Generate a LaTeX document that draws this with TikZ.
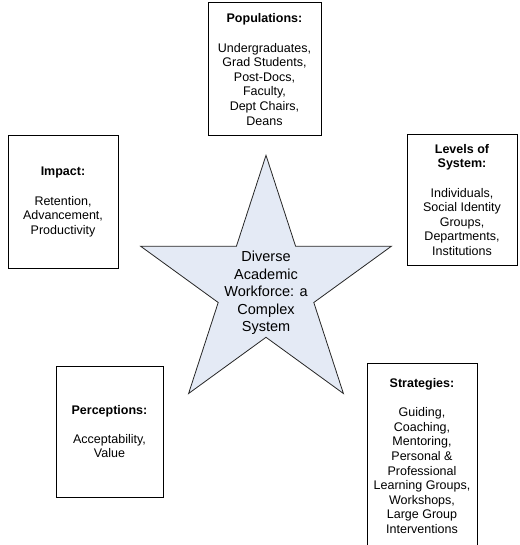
\documentclass[tikz,border=0pt]{standalone}
\usepackage{fontspec}
\setmainfont{Liberation Sans}
\definecolor{starfill}{RGB}{228,234,245}
\begin{document}
\begin{tikzpicture}[x=1pt,y=-1pt,
  infobox/.style={draw=black,line width=1pt,fill=white,inner sep=0pt,align=center,
    font=\fontsize{12.5}{14.6}\selectfont},
  startext/.style={inner sep=0pt,align=center,font=\fontsize{14.5}{17.5}\selectfont}]
\useasboundingbox (0,0) rectangle (519,545);
\clip (0,0) rectangle (519,545);
% star
\coordinate (s1) at (266,155.3);
\coordinate (s2) at (295.6,246.3);
\coordinate (s3) at (391.3,246.3);
\coordinate (s4) at (313.8,302.5);
\coordinate (s5) at (343.4,393.5);
\coordinate (s6) at (266,337.3);
\coordinate (s7) at (188.6,393.5);
\coordinate (s8) at (218.2,302.5);
\coordinate (s9) at (140.7,246.3);
\coordinate (s10) at (236.4,246.3);
\draw[fill=starfill,draw=black!85,line width=0.8pt,line join=miter]
  (s1)--(s2)--(s3)--(s4)--(s5)--(s6)--(s7)--(s8)--(s9)--(s10)--cycle;
\node[startext] (core) at (266,293) {Diverse\\Academic\\Workforce: a\\Complex\\System};
% boxes
\node[infobox,minimum width=113pt,minimum height=133pt] (pop) at (264.5,69.5)
  {\textbf{Populations:}\\[14.6pt]Undergraduates,\\Grad Students,\\Post-Docs,\\Faculty,\\Dept Chairs,\\Deans};
\node[infobox,minimum width=110pt,minimum height=132pt] (imp) at (63,202)
  {\textbf{Impact:}\\[14.6pt]Retention,\\Advancement,\\Productivity};
\node[infobox,minimum width=110pt,minimum height=130pt] (lev) at (462,200)
  {\textbf{Levels of}\\\textbf{System:}\\[14.6pt]Individuals,\\Social Identity\\Groups,\\Departments,\\Institutions};
\node[infobox,minimum width=107pt,minimum height=131pt] (per) at (109.5,431.5)
  {\textbf{Perceptions:}\\[14.6pt]Acceptability,\\Value};
\node[infobox,minimum width=110pt,minimum height=186pt] (str) at (422,456)
  {\textbf{Strategies:}\\[14.6pt]Guiding,\\Coaching,\\Mentoring,\\Personal \&\\Professional\\Learning Groups,\\Workshops,\\Large Group\\Interventions};
\end{tikzpicture}
\end{document}
